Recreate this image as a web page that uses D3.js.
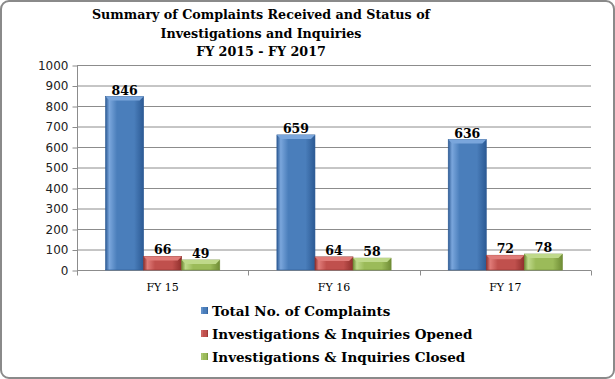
<!DOCTYPE html>
<html>
<head>
<meta charset="utf-8">
<script src="https://cdn.jsdelivr.net/npm/d3@7"></script>
<style>
  body { margin: 0; background: #fff; }
  .grid line { stroke: #8c8c8c; stroke-width: 1; }
  .axis text { font-family: "DejaVu Sans", Verdana, sans-serif; font-size: 12px; fill: #222; }
  .axis path, .axis line { stroke: #8c8c8c; }
  .title { font-family: "DejaVu Serif", serif; font-weight: bold; font-size: 12.7px; fill: #000; }
  .val { font-family: "DejaVu Serif", serif; font-weight: bold; font-size: 12.5px; fill: #000; }
  .cat { font-family: "DejaVu Serif", serif; font-size: 11px; fill: #000; }
  .leg { font-family: "DejaVu Serif", serif; font-weight: bold; font-size: 13.5px; fill: #000; }
</style>
</head>
<body>
<svg id="chart" width="615" height="379"></svg>
<script>
const SVG = d3.select("#chart");
const WIDTH = 615;
const HEIGHT = 379;
const MARGIN = { top: 65, bottom: 109, left: 77, right: 24 };

const CATEGORIES = ["FY 15", "FY 16", "FY 17"];
const SERIES = ["Total No. of Complaints", "Investigations & Inquiries Opened", "Investigations & Inquiries Closed"];
const TOTAL = [846, 659, 636];
const OPENED = [66, 64, 72];
const CLOSED = [49, 58, 78];
const Y_TICKS = [0, 100, 200, 300, 400, 500, 600, 700, 800, 900, 1000];
const TITLE = ["Summary of Complaints Received and Status of", "Investigations and Inquiries", "FY 2015 - FY 2017"];

const COLORS = [
  { base: "#4a7ebb", light: "#7aa6dc", dark: "#2c5a94" },
  { base: "#c0504d", light: "#e07c79", dark: "#8f2f2c" },
  { base: "#9bbb59", light: "#bfd98a", dark: "#6f8c35" }
];

const VALUES = [TOTAL, OPENED, CLOSED];

// outer frame
SVG.append("rect")
  .attr("x", 1).attr("y", 1)
  .attr("width", WIDTH - 2).attr("height", HEIGHT - 2)
  .attr("rx", 8)
  .attr("fill", "#fff")
  .attr("stroke", "#8a8a8a")
  .attr("stroke-width", 2);

// gradients for the bevelled look
const DEFS = SVG.append("defs");
COLORS.forEach((c, i) => {
  const g = DEFS.append("linearGradient")
    .attr("id", "grad" + i)
    .attr("x1", "0%").attr("x2", "100%").attr("y1", "0%").attr("y2", "0%");
  g.append("stop").attr("offset", "0%").attr("stop-color", c.dark);
  g.append("stop").attr("offset", "10%").attr("stop-color", c.light);
  g.append("stop").attr("offset", "30%").attr("stop-color", c.base);
  g.append("stop").attr("offset", "75%").attr("stop-color", c.base);
  g.append("stop").attr("offset", "100%").attr("stop-color", c.dark);
});

const SCALE_X = d3.scaleBand()
  .domain(CATEGORIES)
  .range([MARGIN.left, WIDTH - MARGIN.right])
  .paddingInner(0)
  .paddingOuter(0);

const SCALE_SUB = d3.scaleBand()
  .domain(SERIES)
  .range([0, SCALE_X.bandwidth()])
  .paddingOuter(0.75)
  .paddingInner(0);

const SCALE_Y = d3.scaleLinear()
  .domain([0, 1000])
  .range([HEIGHT - MARGIN.bottom, MARGIN.top]);

// title
SVG.append("g").selectAll("text")
  .data(TITLE)
  .enter()
  .append("text")
  .attr("class", "title")
  .attr("x", 261)
  .attr("y", (d, i) => 19 + i * 18.5)
  .attr("text-anchor", "middle")
  .text(d => d);

// gridlines
SVG.append("g")
  .attr("class", "grid")
  .selectAll("line")
  .data(Y_TICKS.slice(1))
  .enter()
  .append("line")
  .attr("x1", MARGIN.left)
  .attr("x2", WIDTH - MARGIN.right)
  .attr("y1", d => SCALE_Y(d) + 0.5)
  .attr("y2", d => SCALE_Y(d) + 0.5);

// y axis
const Y_AXIS = SVG.append("g")
  .attr("class", "axis")
  .attr("transform", `translate(${MARGIN.left + 0.5},0.5)`)
  .call(d3.axisLeft(SCALE_Y).tickValues(Y_TICKS).tickSize(5).tickPadding(4).tickFormat(d3.format("d")));
Y_AXIS.select(".domain").attr("d", `M0,${SCALE_Y(1000)}V${SCALE_Y(0)}`);

// x axis
const X_AXIS = SVG.append("g")
  .attr("class", "axis")
  .attr("transform", `translate(0,${SCALE_Y(0) + 0.5})`);
X_AXIS.append("line")
  .attr("x1", MARGIN.left).attr("x2", WIDTH - MARGIN.right)
  .attr("stroke", "#8c8c8c");
const BOUNDS = CATEGORIES.map(c => SCALE_X(c)).concat([WIDTH - MARGIN.right]);
X_AXIS.selectAll("line.tick")
  .data(BOUNDS)
  .enter()
  .append("line")
  .attr("class", "tick")
  .attr("x1", d => Math.round(d) + 0.5).attr("x2", d => Math.round(d) + 0.5)
  .attr("y1", 0).attr("y2", 5)
  .attr("stroke", "#8c8c8c");
SVG.selectAll("text.cat")
  .data(CATEGORIES)
  .enter()
  .append("text")
  .attr("class", "cat")
  .attr("x", d => SCALE_X(d) + SCALE_X.bandwidth() / 2)
  .attr("y", SCALE_Y(0) + 21)
  .attr("text-anchor", "middle")
  .text(d => d);

// bars
const BAR_DATA = [];
CATEGORIES.forEach((c, ci) => {
  SERIES.forEach((s, si) => {
    BAR_DATA.push({ cat: c, series: s, si: si, value: VALUES[si][ci] });
  });
});

const BARS = SVG.append("g").selectAll("g.bar")
  .data(BAR_DATA)
  .enter()
  .append("g")
  .attr("class", "bar");

BARS.append("rect")
  .attr("x", d => SCALE_X(d.cat) + SCALE_SUB(d.series))
  .attr("y", d => SCALE_Y(d.value))
  .attr("width", SCALE_SUB.bandwidth())
  .attr("height", d => SCALE_Y(0) - SCALE_Y(d.value))
  .attr("fill", d => `url(#grad${d.si})`)
  .attr("stroke", d => COLORS[d.si].dark)
  .attr("stroke-width", 0.6);

// bevel top
BARS.append("path")
  .attr("d", d => {
    const x0 = SCALE_X(d.cat) + SCALE_SUB(d.series);
    const x1 = x0 + SCALE_SUB.bandwidth();
    const y0 = SCALE_Y(d.value);
    return `M${x0},${y0}L${x1},${y0}L${x1 - 4},${y0 + 4}L${x0 + 4},${y0 + 4}Z`;
  })
  .attr("fill", d => COLORS[d.si].light);

BARS.append("text")
  .attr("class", "val")
  .attr("x", d => SCALE_X(d.cat) + SCALE_SUB(d.series) + SCALE_SUB.bandwidth() / 2)
  .attr("y", d => SCALE_Y(d.value) - 2)
  .attr("text-anchor", "middle")
  .text(d => d.value);

// legend
const LEGEND = SVG.append("g").selectAll("g")
  .data(SERIES)
  .enter()
  .append("g")
  .attr("transform", (d, i) => `translate(201,${311 + i * 23})`);

LEGEND.append("rect")
  .attr("x", 0).attr("y", -4)
  .attr("width", 7).attr("height", 7)
  .attr("fill", (d, i) => `url(#grad${i})`);

LEGEND.append("text")
  .attr("class", "leg")
  .attr("x", 11)
  .attr("y", 5)
  .text(d => d);
</script>
</body>
</html>
